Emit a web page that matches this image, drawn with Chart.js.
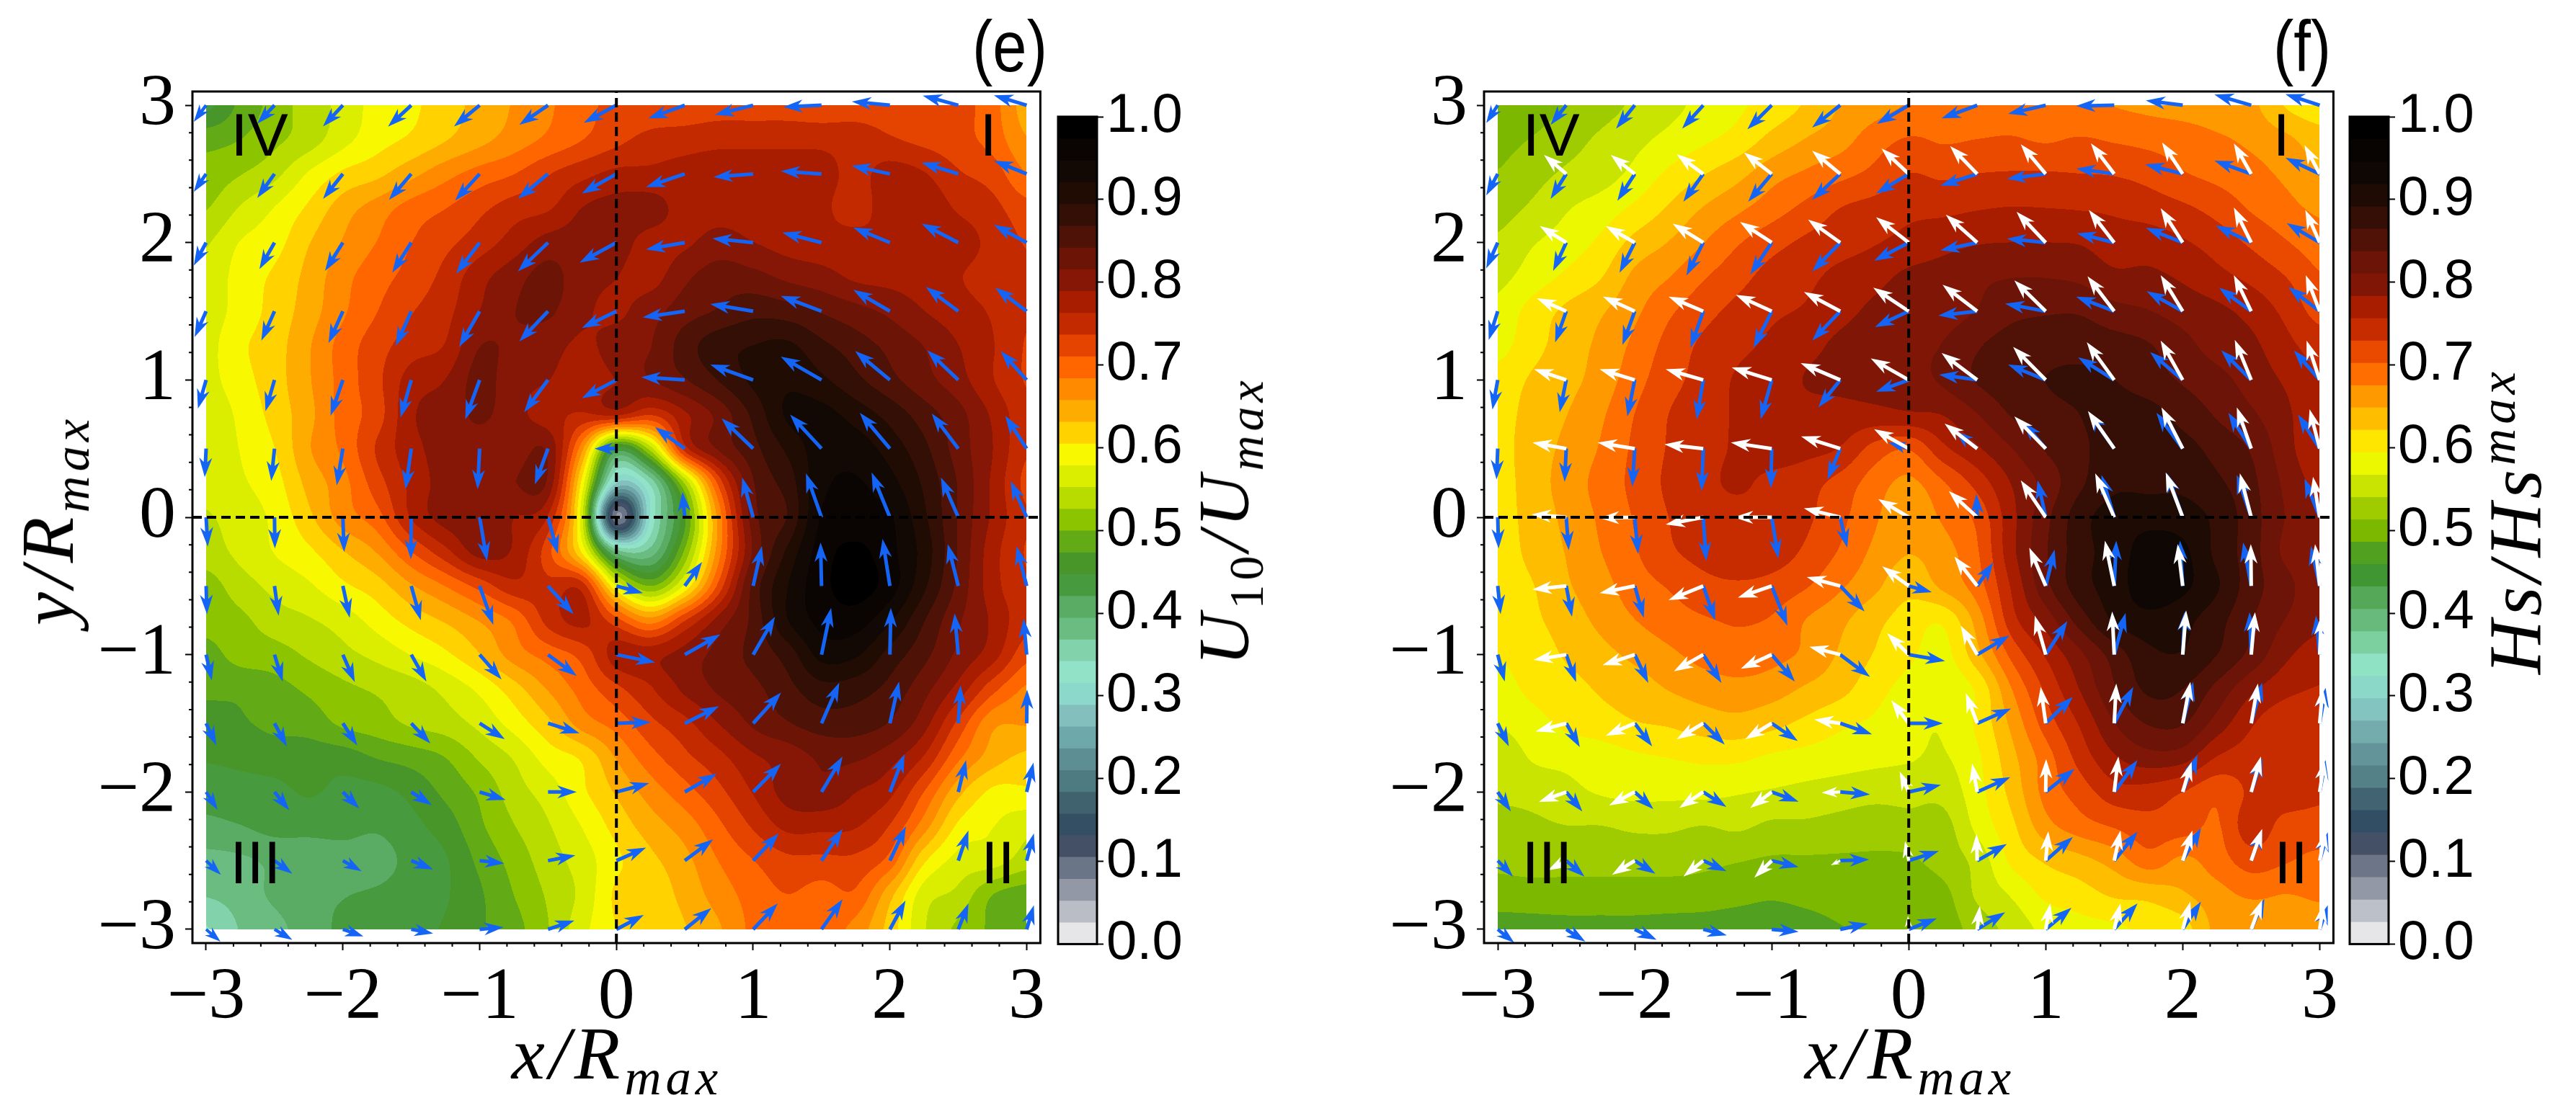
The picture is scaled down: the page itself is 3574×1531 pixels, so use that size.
<!DOCTYPE html>
<html>
<head>
<meta charset="utf-8">
<script src="https://cdn.jsdelivr.net/npm/chart.js@4"></script>
<style>
  html, body { margin: 0; background: #fff; }
  #page { position: relative; width: 3574px; height: 1531px; overflow: hidden; }
  canvas { position: absolute; }
  .lbl { position: absolute; white-space: nowrap; font-family: "Liberation Serif", serif; font-size: 104px; letter-spacing: 6px; line-height: 1; transform: translate(-50%, -50%); color: #000; }
  .lbl.rot { transform: translate(-50%, -50%) rotate(-90deg); }
  .lbl sub, .lbl sup { font-size: 68%; line-height: 0; }
  .tag { position: absolute; font-family: "Liberation Sans", sans-serif; font-size: 100px; line-height: 1; transform: translate(-50%, -50%) scaleX(0.85); }
</style>
</head>
<body>
<div id="page">
  <canvas id="chartE" width="1456" height="1425" style="left:0;top:0"></canvas>
  <canvas id="barE" width="190" height="1300" style="left:1460px;top:60px"></canvas>
  <canvas id="chartF" width="1400" height="1425" style="left:1850px;top:0"></canvas>
  <canvas id="barF" width="190" height="1300" style="left:3252px;top:60px"></canvas>

  <div class="lbl" style="left:856px;top:1462px"><i>x/R<sub>max</sub></i></div>
  <div class="lbl" style="left:2650px;top:1462px"><i>x/R<sub>max</sub></i></div>
  <div class="lbl rot" style="left:66px;top:722px"><i>y/R<sub>max</sub></i></div>
  <div class="lbl rot" style="left:1698px;top:723px;font-size:100px"><i>U</i><sub>10</sub><i>/U<sub>max</sub></i></div>
  <div class="lbl rot" style="left:3490px;top:723px"><i>Hs/Hs<sup>max</sup></i></div>
  <div class="tag" style="left:1401px;top:64px">(e)</div>
  <div class="tag" style="left:3194px;top:64px">(f)</div>
</div>

<script>
// grid of the filled contours
const gridXs = [-3,-2.75,-2.5,-2.25,-2,-1.75,-1.5,-1.25,-1,-0.75,-0.5,-0.25,0,0.25,0.5,0.75,1,1.25,1.5,1.75,2,2.25,2.5,2.75,3];
const gridYs = [3,2.75,2.5,2.25,2,1.75,1.5,1.25,1,0.75,0.5,0.25,0,-0.25,-0.5,-0.75,-1,-1.25,-1.5,-1.75,-2,-2.25,-2.5,-2.75,-3];

// grid of the arrows
const arrowXs = [-3,-2.5,-2,-1.5,-1,-0.5,0,0.5,1,1.5,2,2.5,3];
const arrowYs = [3,2.5,2,1.5,1,0.5,0,-0.5,-1,-1.5,-2,-2.5,-3];

const majorTicks = [-3,-2,-1,0,1,2,3];
const minorTicks = [-2.8,-2.6,-2.4,-2.2,-1.8,-1.6,-1.4,-1.2,-0.8,-0.6,-0.4,-0.2,0.2,0.4,0.6,0.8,1.2,1.4,1.6,1.8,2.2,2.4,2.6,2.8];
const barTicks = [0,0.1,0.2,0.3,0.4,0.5,0.6,0.7,0.8,0.9,1];

const quadrants = [["IV",-2.61,2.77],["I",2.72,2.77],["III",-2.64,-2.53],["II",2.79,-2.53]];

// colours top of the colour bar first
const levelsE = ["#000000","#0a0503","#120804","#210c04","#340f06","#4f1206","#6c1507","#861706","#a81c00","#c42a00",
  "#e44400","#ff6600","#ff8a00","#ffac00","#ffd200","#f8f800","#dcee00","#b8dc00","#8cc400","#62aa16",
  "#48962a","#489a3e","#5aab63","#6bbc80","#82d2ac","#92e2c8","#8cd9cc","#83c0bd","#6fa8ab","#5c8e94",
  "#4e7a82","#40626f","#344e63","#445066","#6a7688","#9298a6","#babdc6","#e6e6e8"];
const levelsF = ["#000000","#080402","#0f0703","#1e0b04","#350f06","#501106","#6b1407","#7f1606","#a81c00","#c62c00",
  "#ea4a00","#ff6e00","#ff9900","#ffbd00","#ffe600","#ecf800","#c8e400","#9ecc00","#7db800","#52a020",
  "#3f9633","#55a858","#68ba7c","#7cd0a0","#90e2c4","#8cd8c8","#84c4c0","#74acae","#62949a","#548088",
  "#426472","#324e64","#445066","#6c7688","#9298a6","#bcc0c8","#e6e6e8"];

// U10/Umax, in thousandths
const heatE = [
[440,480,510,540,560,590,600,620,640,660,680,700,720,720,720,725,725,725,720,725,725,720,720,695,645],
[490,500,520,540,570,595,610,630,650,670,690,710,730,745,750,755,755,755,755,750,740,730,720,700,660],
[510,525,545,582,610,625,650,675,695,710,735,755,770,770,775,780,780,780,775,755,775,765,740,725,685],
[525,555,580,610,645,670,695,710,730,750,760,790,800,800,780,780,780,780,770,750,780,780,760,745,720],
[550,580,595,630,660,685,710,730,750,775,800,800,800,780,785,800,790,780,775,775,765,770,775,755,735],
[560,590,610,640,675,700,720,745,780,805,825,800,790,780,810,830,825,810,800,785,780,775,765,750,740],
[565,590,615,645,680,710,735,755,790,815,820,795,785,805,830,845,860,855,840,825,810,790,775,760,740],
[570,600,620,655,695,725,750,765,815,810,800,785,800,815,855,885,895,900,875,855,835,815,790,765,735],
[570,595,620,655,695,730,775,790,825,800,790,775,790,815,840,870,900,915,900,875,850,825,800,765,735],
[560,585,615,650,695,725,785,800,820,800,775,760,770,740,785,825,875,925,930,910,885,855,825,785,745],
[560,580,605,655,690,740,780,800,805,800,810,665,440,540,750,820,860,900,935,935,910,875,830,790,740],
[560,575,595,640,675,725,770,800,805,815,810,595,290,350,530,720,840,880,940,950,930,890,840,785,730],
[550,565,585,625,670,700,765,800,800,790,760,560,80,320,470,670,830,870,950,955,950,900,840,785,740],
[540,560,580,600,630,660,710,755,800,785,720,600,385,380,505,675,820,900,960,980,955,910,840,775,735],
[515,540,560,575,600,620,655,685,720,755,745,750,580,500,585,720,850,920,965,985,960,900,835,775,740],
[510,520,540,550,565,590,615,635,660,690,745,770,720,670,735,800,850,920,955,960,925,870,820,785,745],
[490,510,515,530,545,560,580,600,630,670,695,720,775,780,800,825,850,880,930,925,885,850,810,775,720],
[480,480,490,505,520,530,540,560,585,620,660,695,730,760,795,820,835,860,885,880,860,825,780,720,680],
[460,470,480,485,505,515,530,540,560,590,625,670,695,730,755,790,820,840,855,855,840,800,730,665,660],
[450,455,460,460,460,475,485,500,530,555,590,610,660,700,730,755,785,800,820,820,800,760,690,645,625],
[430,435,440,450,440,440,455,480,505,540,565,600,635,670,700,730,765,800,810,790,770,710,640,600,600],
[415,420,430,430,430,425,440,460,495,525,550,580,615,645,670,705,740,770,770,765,735,670,600,580,560],
[385,390,400,405,410,410,430,445,480,510,540,565,600,625,650,685,710,730,730,730,700,610,570,565,540],
[370,380,400,415,420,425,435,445,470,500,530,560,610,615,640,670,695,710,700,705,640,565,545,500,485],
[340,370,385,410,425,430,440,450,470,490,525,570,605,610,630,655,690,695,695,675,620,555,520,495,480]
];

// Hs/Hsmax, in thousandths
const heatF = [
[490,500,515,530,545,560,575,590,605,625,650,665,678,690,690,690,685,680,675,670,665,660,655,620,605],
[505,515,530,545,560,575,590,605,630,650,665,690,705,700,703,705,700,705,700,695,690,680,670,655,635],
[515,530,545,555,575,600,620,640,665,680,695,710,730,725,730,732,732,730,728,720,705,695,685,670,650],
[530,545,565,580,600,625,650,670,690,710,730,740,750,750,755,758,757,755,752,745,735,720,700,685,670],
[545,565,580,600,630,650,675,700,720,735,745,755,765,775,782,784,784,782,770,770,760,745,725,705,690],
[560,580,600,620,655,675,700,720,740,750,765,775,790,795,805,810,810,805,790,790,780,765,750,730,705],
[575,605,627,645,670,698,720,738,752,760,775,790,800,800,812,830,835,835,820,812,800,790,775,750,720],
[585,612,634,655,682,712,735,750,762,775,790,800,805,812,835,850,855,855,850,840,820,800,790,765,745],
[605,625,640,660,692,720,740,760,770,785,790,795,800,815,840,855,865,870,865,850,835,820,800,780,757],
[610,632,648,671,703,730,745,760,770,775,775,775,780,785,810,840,855,865,875,875,855,835,815,790,760],
[612,635,655,678,708,732,748,760,770,765,755,720,705,750,780,810,840,860,875,880,875,855,835,795,760],
[610,635,660,685,710,735,750,760,750,740,720,690,670,700,740,785,820,860,885,885,885,870,845,805,775],
[610,632,655,680,705,730,745,750,750,735,710,680,655,680,710,775,830,880,905,910,905,885,850,810,785],
[605,630,650,675,700,725,740,755,745,725,700,670,650,665,700,775,835,880,905,930,925,885,850,805,785],
[600,620,645,665,690,705,720,725,720,705,680,655,630,655,690,760,830,880,905,935,925,895,850,820,790],
[595,615,635,655,675,690,700,705,700,675,655,630,610,600,660,745,795,850,895,910,900,875,840,810,790],
[595,605,625,640,655,670,685,695,685,670,645,620,600,585,640,710,760,805,850,885,890,865,830,790,770],
[585,600,610,625,635,650,660,665,660,645,630,605,585,575,600,675,735,785,835,870,865,830,790,765,755],
[570,585,600,610,620,625,635,640,630,615,600,590,575,570,600,655,715,760,810,840,840,800,760,740,740],
[545,570,575,580,590,595,600,600,590,585,580,575,570,565,590,640,690,740,780,800,795,755,745,750,750],
[545,550,560,570,575,575,575,570,565,560,555,550,550,550,585,630,685,715,745,745,730,710,735,745,735],
[530,535,540,540,545,545,540,545,535,535,530,525,530,530,575,615,665,690,705,720,715,700,745,720,720],
[520,525,525,525,525,525,520,515,510,510,510,510,510,525,550,600,625,640,660,690,670,690,715,705,695],
[500,500,500,500,500,500,500,495,490,495,500,500,495,505,545,570,600,610,625,630,645,665,680,675,680],
[475,478,480,480,480,478,475,472,470,475,485,490,495,500,525,550,575,585,590,600,610,655,650,655,660]
];

// arrows: u,v pairs for every x, one row per y, in thousandths of x/Rmax
const blueE = [
[-90,-120,-126,-135,-145,-154,-170,-156,-187,-154,-210,-143,-238,-128,-267,-96,-280,-70,-280,-13,-278,26,-260,70,-240,73],
[-90,-130,-126,-175,-145,-182,-163,-190,-180,-195,-220,-182,-253,-143,-284,-96,-290,-23,-298,20,-280,60,-270,83,-240,96],
[-90,-167,-110,-193,-130,-206,-139,-219,-172,-227,-220,-210,-268,-146,-284,-50,-298,30,-288,73,-268,110,-268,138,-240,130],
[-84,-188,-96,-214,-105,-232,-114,-253,-150,-260,-210,-220,-253,-122,-308,-44,-314,52,-298,112,-268,156,-237,177,-230,172],
[-60,-208,-66,-227,-90,-260,-78,-274,-105,-287,-175,-235,-253,-133,-318,20,-314,112,-298,170,-254,210,-227,216,-190,210],
[-10,-208,-24,-235,-45,-268,-42,-295,-15,-295,-96,-260,-160,0,-217,156,-230,220,-230,248,-220,260,-194,255,-157,240],
[12,-214,3,-227,9,-253,-3,-305,54,-318,72,-266,0,0,-17,185,-80,290,-114,320,-134,326,-127,290,-117,263],
[6,-206,30,-216,50,-232,70,-250,100,-283,187,-206,194,-52,127,175,64,290,-7,317,-54,343,-77,304,-74,290],
[42,-188,60,-196,87,-200,111,-196,160,-180,210,-155,284,-57,260,147,160,276,70,340,7,340,-27,300,-23,263],
[75,-160,90,-168,105,-162,140,-147,184,-116,230,-72,250,8,250,124,204,224,130,296,67,304,17,276,3,245],
[84,-129,108,-134,120,-121,150,-95,190,-57,210,0,240,64,234,134,204,206,154,258,107,276,57,232,50,214],
[108,-103,130,-95,136,-77,160,-64,180,-20,200,39,217,95,207,155,187,198,154,232,117,250,74,219,53,198],
[105,-90,130,-77,150,-52,160,-30,175,15,193,64,200,105,194,155,180,188,154,219,114,209,74,188,53,175]
];
const blueF = [
[-84,-130,-114,-143,-136,-170,-154,-170,-178,-175,-205,-162,-232,-136,-260,-96,-275,-63,-278,-5,-269,34,-269,78,-250,80],
[-84,-156,-114,-182,-127,-196,-145,-203,-172,-203,-205,-188,-238,-143,-269,-86,-284,-36,-278,39,-275,70,-269,96,-250,117],
[-84,-188,-96,-206,-111,-219,-123,-240,-157,-232,-205,-211,-253,-133,-269,-57,-284,29,-272,68,-269,107,-260,125,-241,141],
[-66,-209,-81,-227,-90,-245,-93,-266,-133,-266,-205,-214,-247,-115,-284,-31,-297,55,-278,107,-263,146,-235,172,-229,177],
[-39,-216,-48,-235,-54,-266,-48,-287,-81,-287,-160,-200,-238,-86,-278,39,-275,112,-263,164,-238,203,-219,216,-189,216],
[-9,-224,-12,-242,-18,-276,-12,-308,-6,-287,-93,-224,-148,44,-167,130,-167,196,-185,260,-192,260,-167,260,-158,248],
[6,-227,18,-240,24,-266,21,-318,48,-300,51,-222,0,0,-6,170,-59,269,-93,308,-114,320,-105,308,-111,280],
[21,-206,42,-224,66,-232,87,-250,114,-289,178,-186,169,-46,117,170,65,265,15,330,-20,330,-59,317,-65,290],
[51,-196,72,-200,99,-206,133,-206,169,-196,217,-162,265,-46,235,139,158,245,83,304,15,314,-12,309,-28,284],
[81,-168,99,-173,127,-168,157,-155,190,-129,232,-80,250,0,247,108,198,193,139,265,77,302,80,296,43,258],
[96,-142,117,-142,136,-124,169,-108,196,-70,217,-18,235,52,241,108,210,168,170,232,108,270,80,245,43,232],
[111,-116,133,-116,151,-95,169,-77,196,-46,211,8,220,70,216,121,198,173,170,211,133,237,80,219,59,206],
[120,-98,139,-90,160,-77,172,-44,196,-18,202,41,205,80,204,124,188,157,170,188,133,201,96,222,59,175]
];
const whiteF = [
[0,0,0,0,0,0,0,0,0,0,0,0,0,0,0,0,0,0,0,0,0,0,0,0,0,0],
[0,0,-163,138,-175,138,-193,143,-202,156,-205,169,-199,185,-198,203,-182,216,-170,222,-151,229,-127,222,-111,209],
[0,0,-193,120,-211,120,-223,138,-232,151,-235,167,-238,185,-229,203,-213,224,-185,237,-161,250,-127,255,-105,237],
[0,0,-214,94,-232,107,-253,107,-262,120,-265,141,-259,172,-253,193,-229,224,-195,255,-161,263,-127,263,-102,263],
[0,0,-235,78,-256,78,-274,78,-292,91,-289,123,-277,156,-260,196,-238,240,-200,274,-161,287,-120,292,-96,287],
[0,0,-247,44,-271,44,-283,31,-298,44,-286,89,-253,141,-238,182,-229,235,-192,274,-155,300,-105,300,-74,287],
[0,0,-253,21,-256,-5,-274,-52,-277,0,-265,65,-223,133,-207,190,-182,269,-139,320,-124,326,-83,320,-49,295],
[0,0,-247,-26,-256,-52,-253,-103,-247,-85,-244,64,-193,142,-167,214,-120,278,-68,330,-37,304,-3,304,-34,304],
[0,0,-238,-39,-235,-77,-214,-121,-226,-103,-226,57,-157,155,-120,211,-80,284,-15,314,25,322,28,309,12,284],
[0,0,-223,-59,-211,-90,-193,-116,-193,-116,-190,28,-127,168,-83,219,-37,265,15,289,56,302,49,289,22,258],
[0,0,-199,-72,-187,-98,-175,-116,-157,-116,-136,-5,-66,149,-37,206,3,240,31,258,65,219,71,258,34,232],
[0,0,-133,-70,-166,-103,-145,-116,-127,-124,-69,-34,-27,142,-6,193,19,214,46,219,71,219,80,232,43,219],
[0,0,0,0,0,0,0,0,0,0,0,0,-6,98,19,170,34,188,46,188,56,201,80,214,28,188]
];

function hexRgb(h) {
  return [parseInt(h.slice(1,3),16), parseInt(h.slice(3,5),16), parseInt(h.slice(5,7),16)];
}

function cr(a, b, c, d, t) {
  return b + 0.5*t*(c - a + t*(2*a - 5*b + 4*c - d + t*(3*(b - c) + d - a)));
}

// contourf style lookup of the grid at a fractional row/column
function sampleGrid(grid, fx, fy) {
  const n = gridXs.length - 1, m = gridYs.length - 1;
  const i = Math.min(Math.floor(fx), n - 1), j = Math.min(Math.floor(fy), m - 1);
  const tx = fx - i, ty = fy - j;
  const rows = [];
  for (let r = -1; r <= 2; r++) {
    const row = grid[Math.max(0, Math.min(m, j + r))];
    rows.push(cr(row[Math.max(0,i-1)], row[i], row[i+1], row[Math.min(n,i+2)], tx));
  }
  return cr(rows[0], rows[1], rows[2], rows[3], ty);
}

function drawHeat(chart, grid, levels) {
  const xs = chart.scales.x, ys = chart.scales.y, ctx = chart.ctx;
  const x0 = Math.round(xs.getPixelForValue(gridXs[0])), x1 = Math.round(xs.getPixelForValue(gridXs[gridXs.length-1]));
  const y0 = Math.round(ys.getPixelForValue(gridYs[0])), y1 = Math.round(ys.getPixelForValue(gridYs[gridYs.length-1]));
  const w = x1 - x0, h = y1 - y0;
  const off = document.createElement("canvas");
  off.width = w; off.height = h;
  const octx = off.getContext("2d");
  const img = octx.createImageData(w, h);
  const rgb = levels.map(hexRgb), nb = levels.length;
  let k = 0;
  for (let py = 0; py < h; py++) {
    const fy = (3 - ys.getValueForPixel(y0 + py + 0.5)) / 0.25;
    for (let px = 0; px < w; px++) {
      const fx = (xs.getValueForPixel(x0 + px + 0.5) + 3) / 0.25;
      const v = sampleGrid(grid, fx, fy) / 1000;
      const c = rgb[Math.max(0, Math.min(nb - 1, Math.floor((1 - v) * nb)))];
      img.data[k++] = c[0]; img.data[k++] = c[1]; img.data[k++] = c[2]; img.data[k++] = 255;
    }
  }
  octx.putImageData(img, 0, 0);
  ctx.drawImage(off, x0, y0);
}

function drawArrow(ctx, x0, y0, x1, y1, color) {
  const L = Math.hypot(x1 - x0, y1 - y0);
  if (L < 1) return;
  const s = Math.min(1, L / 32);
  const hl = 27 * s, ha = 21 * s, hw = 9 * s, w = 2.5 * Math.max(s, 0.6);
  ctx.save();
  ctx.translate(x0, y0);
  ctx.rotate(Math.atan2(y1 - y0, x1 - x0));
  ctx.fillStyle = color;
  ctx.beginPath();
  ctx.moveTo(0, -w);
  ctx.lineTo(L - ha, -w);
  ctx.lineTo(L - hl, -hw);
  ctx.lineTo(L, 0);
  ctx.lineTo(L - hl, hw);
  ctx.lineTo(L - ha, w);
  ctx.lineTo(0, w);
  ctx.closePath();
  ctx.fill();
  ctx.restore();
}

function arrowPoints(flat) {
  const pts = [];
  arrowYs.forEach((y, r) => arrowXs.forEach((x, c) => {
    pts.push({ x: x, y: y, u: flat[r][2*c] / 1000, v: flat[r][2*c+1] / 1000 });
  }));
  return pts;
}

function makePanel(id, grid, levels, arrows) {
  const fieldLayer = {
    id: "fieldLayer",
    beforeDatasetsDraw(chart) {
      const a = chart.chartArea, xs = chart.scales.x, ys = chart.scales.y, ctx = chart.ctx;
      drawHeat(chart, grid, levels);
      ctx.save();
      ctx.beginPath();
      ctx.rect(a.left, a.top, a.width, a.height);
      ctx.clip();
      chart.data.datasets.forEach(ds => {
        if (!ds.arrowColor) return;
        ds.data.forEach(p => drawArrow(ctx,
          xs.getPixelForValue(p.x), ys.getPixelForValue(p.y),
          xs.getPixelForValue(p.x + p.u), ys.getPixelForValue(p.y + p.v), ds.arrowColor));
      });
      ctx.restore();
    },
    afterDraw(chart) {
      const a = chart.chartArea, xs = chart.scales.x, ys = chart.scales.y, ctx = chart.ctx;
      ctx.save();
      ctx.strokeStyle = "#000";
      ctx.lineWidth = 3;
      ctx.strokeRect(a.left, a.top, a.width, a.height);
      ctx.lineWidth = 2;
      ctx.beginPath();
      minorTicks.forEach(t => {
        const px = xs.getPixelForValue(t), py = ys.getPixelForValue(t);
        ctx.moveTo(px, a.bottom); ctx.lineTo(px, a.bottom + 5);
        ctx.moveTo(a.left, py); ctx.lineTo(a.left - 5, py);
      });
      ctx.stroke();
      ctx.fillStyle = "#000";
      ctx.font = '84px "Liberation Sans", sans-serif';
      ctx.textAlign = "center";
      ctx.textBaseline = "middle";
      quadrants.forEach(q => ctx.fillText(q[0], xs.getPixelForValue(q[1]), ys.getPixelForValue(q[2]) + 3));
      ctx.restore();
    }
  };

  const datasets = [
    { data: [{x:0,y:-3.1},{x:0,y:3.1}], showLine: true, pointRadius: 0, borderColor: "#000", borderWidth: 4, borderDash: [13,7] },
    { data: [{x:-3.1,y:0},{x:3.1,y:0}], showLine: true, pointRadius: 0, borderColor: "#000", borderWidth: 4, borderDash: [13,7] }
  ];
  arrows.forEach(a => datasets.push({ data: arrowPoints(a.flat), arrowColor: a.color, pointRadius: 0 }));

  const left = id === "chartE" ? 267 : 209;
  new Chart(document.getElementById(id), {
    type: "scatter",
    data: { datasets: datasets },
    plugins: [fieldLayer],
    options: {
      responsive: false,
      animation: false,
      parsing: false,
      normalized: true,
      layout: { padding: { top: 127, right: 5, left: 0, bottom: 0 } },
      plugins: { legend: { display: false }, tooltip: { enabled: false } },
      scales: {
        x: {
          type: "linear", min: -3.1, max: 3.1,
          afterFit: s => { s.height = 116; },
          afterBuildTicks: s => { s.ticks = majorTicks.map(v => ({ value: v })); },
          grid: { drawOnChartArea: false, tickLength: 10, tickWidth: 2, tickColor: "#000" },
          border: { display: false },
          ticks: { color: "#000", padding: 6, maxRotation: 0, autoSkip: false,
            font: { family: '"Liberation Serif", serif', size: 102 },
            callback: v => String(v).replace("-", "\u2212") }
        },
        y: {
          type: "linear", min: -3.1, max: 3.1,
          afterFit: s => { s.width = left; },
          afterBuildTicks: s => { s.ticks = majorTicks.map(v => ({ value: v })); },
          grid: { drawOnChartArea: false, tickLength: 10, tickWidth: 2, tickColor: "#000" },
          border: { display: false },
          ticks: { color: "#000", padding: 13, autoSkip: false,
            font: { family: '"Liberation Serif", serif', size: 102 },
            callback: v => String(v).replace("-", "\u2212") }
        }
      }
    }
  });
}

function makeBar(id, levels) {
  const n = levels.length;
  const frame = {
    id: "frame",
    afterDraw(chart) {
      const a = chart.chartArea, ctx = chart.ctx;
      ctx.save();
      ctx.strokeStyle = "#000";
      ctx.lineWidth = 3;
      ctx.strokeRect(a.left, a.top, a.width, a.height);
      ctx.restore();
    }
  };
  new Chart(document.getElementById(id), {
    type: "bar",
    data: {
      labels: [""],
      datasets: levels.map((c, i) => ({
        data: [[1 - (i + 1) / n, 1 - i / n]],
        backgroundColor: c, borderWidth: 0, grouped: false,
        barPercentage: 1, categoryPercentage: 1
      }))
    },
    plugins: [frame],
    options: {
      responsive: false,
      animation: false,
      layout: { padding: { top: 102, bottom: 24, left: 8, right: 0 } },
      plugins: { legend: { display: false }, tooltip: { enabled: false } },
      scales: {
        x: { display: false },
        y: {
          position: "right", min: 0, max: 1,
          afterFit: s => { s.width = 128; },
          afterBuildTicks: s => { s.ticks = barTicks.map(v => ({ value: v })); },
          grid: { drawOnChartArea: false, tickLength: 9, tickWidth: 2, tickColor: "#000" },
          border: { display: false },
          ticks: { color: "#000", padding: 4, autoSkip: false,
            font: { family: '"Liberation Sans", sans-serif', size: 76 },
            callback: v => v.toFixed(1) }
        }
      }
    }
  });
}

makePanel("chartE", heatE, levelsE, [{ flat: blueE, color: "#1465f5" }]);
makePanel("chartF", heatF, levelsF, [{ flat: blueF, color: "#1465f5" }, { flat: whiteF, color: "#ffffff" }]);
makeBar("barE", levelsE);
makeBar("barF", levelsF);
</script>
</body>
</html>
